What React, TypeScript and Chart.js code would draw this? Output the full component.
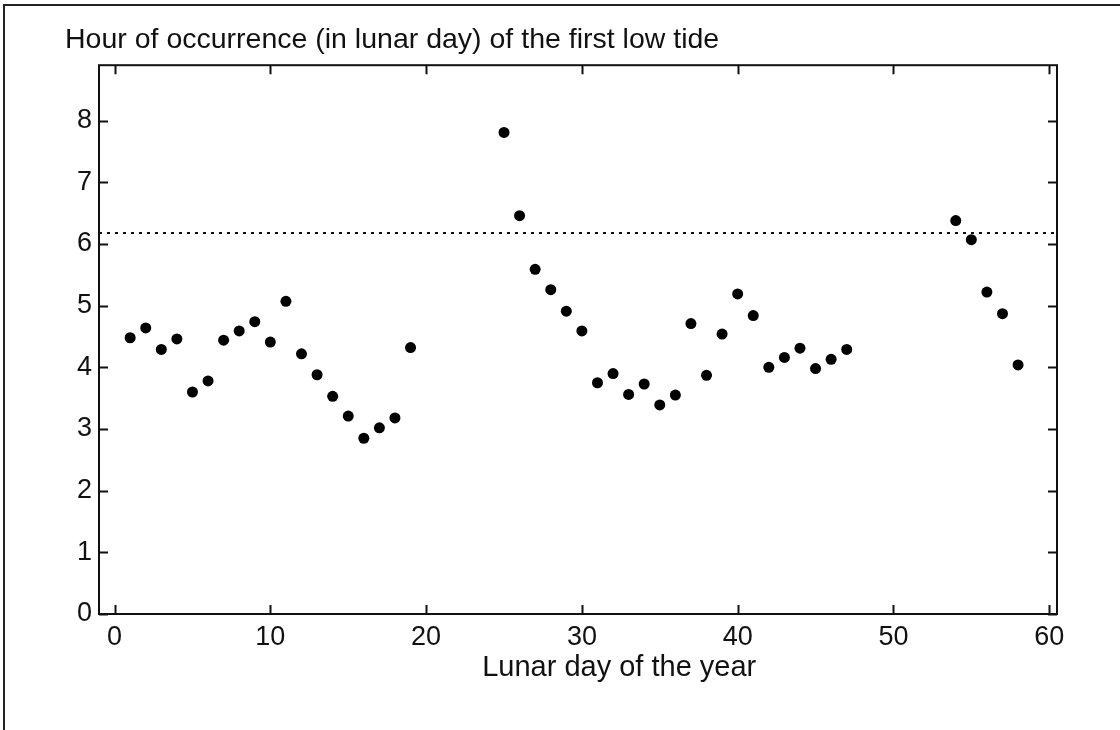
import React, { useEffect, useRef } from "react";
import { Chart, registerables } from "chart.js";

Chart.register(...registerables);

const lunarDays = [
  1, 2, 3, 4, 5, 6, 7, 8, 9, 10, 11, 12, 13, 14, 15, 16, 17, 18, 19,
  25, 26, 27, 28, 29, 30, 31, 32, 33, 34, 35, 36, 37, 38, 39, 40, 41, 42, 43, 44, 45, 46, 47,
  54, 55, 56, 57, 58,
];
const lowTideHour = [
  4.48, 4.64, 4.29, 4.46, 3.6, 3.78, 4.44, 4.59, 4.74, 4.41, 5.07, 4.22, 3.88, 3.53, 3.21, 2.85, 3.02, 3.18, 4.32,
  7.81, 6.46, 5.59, 5.26, 4.91, 4.59, 3.75, 3.9, 3.56, 3.73, 3.39, 3.55, 4.71, 3.87, 4.54, 5.19, 4.84, 4.0, 4.16, 4.31, 3.98, 4.13, 4.29,
  6.38, 6.07, 5.22, 4.87, 4.04,
];
const refLineX = [-1, 60.5];
const refLevel = 6.18;

const titleText = "Hour of occurrence (in lunar day) of the first low tide";
const xTitle = "Lunar day of the year";

const FONT = "'Liberation Sans', Arial, Helvetica, sans-serif";
const INK = "#111";

const frameTicks = {
  id: "frameTicks",
  afterDatasetsDraw(chart: any) {
    const { ctx, chartArea } = chart;
    const { left, right, top, bottom } = chartArea;
    const x = chart.scales.x;
    const y = chart.scales.y;
    const tl = 9;
    ctx.save();
    ctx.strokeStyle = INK;
    ctx.lineWidth = 2;
    ctx.strokeRect(left, top, right - left, bottom - top);
    ctx.beginPath();
    x.ticks.forEach((t: any) => {
      const px = Math.round(x.getPixelForValue(t.value)) + 0.5;
      ctx.moveTo(px, bottom);
      ctx.lineTo(px, bottom - tl);
      ctx.moveTo(px, top);
      ctx.lineTo(px, top + tl);
    });
    y.ticks.forEach((t: any) => {
      const py = Math.round(y.getPixelForValue(t.value)) + 0.5;
      ctx.moveTo(left, py);
      ctx.lineTo(left + tl, py);
      ctx.moveTo(right, py);
      ctx.lineTo(right - tl, py);
    });
    ctx.stroke();
    ctx.restore();
  },
};

// x-axis title, placed a little right of the plot centre as in the source figure
const xAxisTitle = {
  id: "xAxisTitle",
  afterDraw(chart: any) {
    const { ctx, chartArea } = chart;
    const { left, right, bottom } = chartArea;
    ctx.save();
    ctx.fillStyle = INK;
    ctx.font = `29px ${FONT}`;
    ctx.textAlign = "center";
    ctx.textBaseline = "alphabetic";
    ctx.fillText(xTitle, left + (right - left) * 0.543, bottom + 62);
    ctx.restore();
  },
};

export default function App() {
  const ref = useRef<HTMLCanvasElement | null>(null);

  useEffect(() => {
    if (!ref.current) return;
    const points = lunarDays.map((d, i) => ({ x: d, y: lowTideHour[i] }));
    const refPoints = refLineX.map((v) => ({ x: v, y: refLevel }));
    const chart = new Chart(ref.current, {
      type: "scatter",
      data: {
        datasets: [
          {
            type: "line",
            data: refPoints,
            borderColor: INK,
            borderWidth: 2,
            borderDash: [3, 5],
            pointRadius: 0,
            fill: false,
          } as any,
          {
            data: points,
            backgroundColor: "#000",
            borderColor: "#000",
            borderWidth: 0,
            pointRadius: 5.5,
            pointStyle: "circle",
          },
        ],
      },
      options: {
        responsive: false,
        animation: false,
        layout: { padding: { left: 65, right: 63, top: 0, bottom: 36 } },
        plugins: {
          legend: { display: false },
          tooltip: { enabled: false },
          title: {
            display: true,
            text: titleText,
            align: "start",
            color: INK,
            font: { size: 28.5, family: FONT, weight: "normal" },
            padding: { top: 23, bottom: 8 },
          },
        },
        scales: {
          x: {
            type: "linear",
            position: "bottom",
            min: -1,
            max: 60.5,
            grid: { display: false, drawTicks: false },
            border: { display: false },
            ticks: {
              stepSize: 10,
              includeBounds: false,
              padding: 7,
              maxRotation: 0,
              color: INK,
              font: { size: 27, family: FONT },
            },
            title: { display: false, text: xTitle },
            afterFit(scale: any) {
              scale.height = 80;
            },
          },
          y: {
            type: "linear",
            min: 0,
            max: 8.9,
            grid: { display: false, drawTicks: false },
            border: { display: false },
            ticks: {
              stepSize: 1,
              includeBounds: false,
              padding: 7,
              color: INK,
              font: { size: 27, family: FONT },
            },
            afterFit(scale: any) {
              scale.width = 34;
            },
          },
        },
      },
      plugins: [frameTicks, xAxisTitle],
    });
    return () => chart.destroy();
  }, []);

  return (
    <div style={{ position: "absolute", left: 0, top: 0, width: 1120, height: 730, background: "#fff" }}>
      <div
        style={{
          position: "absolute",
          left: 3,
          top: 4,
          width: 1117,
          height: 726,
          borderTop: "2px solid #222",
          borderLeft: "2px solid #222",
          boxSizing: "border-box",
        }}
      />
      <canvas
        ref={ref}
        width={1120}
        height={730}
        style={{ position: "absolute", left: 0, top: 0, width: 1120, height: 730 }}
      />
    </div>
  );
}
